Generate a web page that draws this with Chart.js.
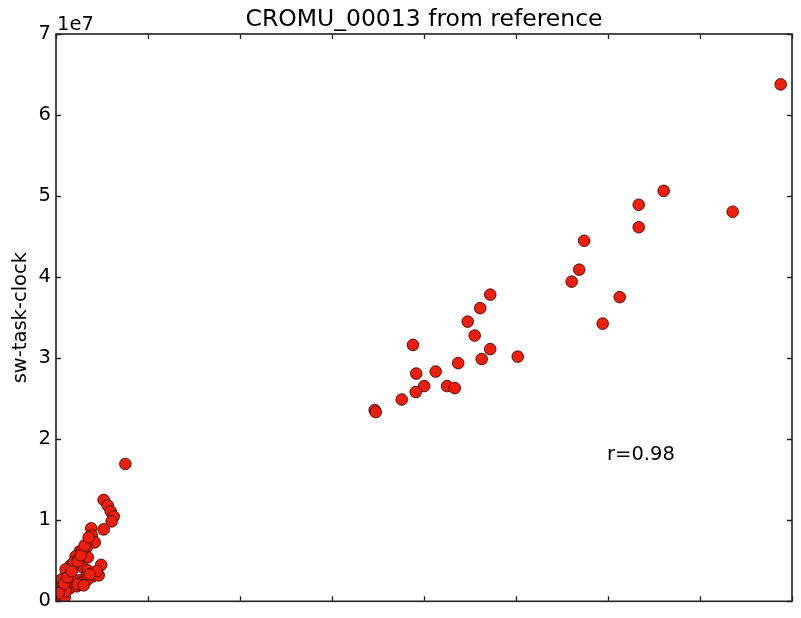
<!DOCTYPE html>
<html>
<head>
<meta charset="utf-8">
<title>CROMU_00013 from reference</title>
<script src="https://cdn.jsdelivr.net/npm/chart.js@4.4.1/dist/chart.umd.min.js"></script>
<style>
    html, body { margin: 0; padding: 0; background: #fff; }
    #chart { display: block; }
</style>
</head>
<body>
<canvas id="chart" width="801" height="618"></canvas>
<script>
// reference run time (arbitrary units) vs sw-task-clock
const refTime = [
    7.877, 6.605, 6.334, 6.334, 7.355, 5.741, 5.687, 5.605, 6.127, 5.942,
    4.720, 4.611, 4.475, 4.551, 4.720, 4.627, 5.019, 3.880, 4.372, 4.127,
    3.915, 4.002, 3.910, 4.252, 4.334, 3.758, 3.464, 3.475,
    0.754, 0.518, 0.562, 0.595, 0.627, 0.605, 0.518, 0.383, 0.388, 0.421,
    0.334, 0.259, 0.345, 0.214, 0.491, 0.160, 0.290, 0.345, 0.182, 0.149,
    0.399, 0.464, 0.323, 0.259, 0.105, 0.127, 0.192, 0.279, 0.345, 0.073,
    0.116, 0.051, 0.084, 0.149, 0.225, 0.040, 0.073, 0.018, 0.029, 0.008,
    0.062, 0.095, 0.105, 0.236, 0.301, 0.290, 0.192, 0.105, 0.062, 0.247,
    0.084, 0.127, 0.171, 0.236, 0.268, 0.312, 0.355, 0.029, 0.442, 0.366
];
const taskClock = [
    6.378e7, 5.065e7, 4.893e7, 4.616e7, 4.807e7, 4.449e7, 4.092e7, 3.944e7, 3.753e7, 3.426e7,
    3.784e7, 3.617e7, 3.451e7, 3.279e7, 3.112e7, 2.989e7, 3.019e7, 3.164e7, 2.939e7, 2.835e7,
    2.810e7, 2.656e7, 2.582e7, 2.656e7, 2.631e7, 2.490e7, 2.360e7, 2.335e7,
    1.695e7, 1.251e7, 1.183e7, 1.109e7, 1.048e7, 0.986e7, 0.887e7, 0.900e7, 0.813e7, 0.727e7,
    0.665e7, 0.616e7, 0.542e7, 0.555e7, 0.450e7, 0.444e7, 0.419e7, 0.382e7, 0.407e7, 0.333e7,
    0.308e7, 0.320e7, 0.296e7, 0.259e7, 0.308e7, 0.271e7, 0.259e7, 0.234e7, 0.271e7, 0.222e7,
    0.234e7, 0.173e7, 0.148e7, 0.160e7, 0.185e7, 0.111e7, 0.086e7, 0.062e7, 0.025e7, 0.012e7,
    0.037e7, 0.049e7, 0.123e7, 0.210e7, 0.197e7, 0.641e7, 0.481e7, 0.394e7, 0.271e7, 0.518e7,
    0.210e7, 0.296e7, 0.370e7, 0.493e7, 0.567e7, 0.690e7, 0.789e7, 0.099e7, 0.370e7, 0.333e7
];
const xTicks = [0, 1, 2, 3, 4, 5, 6, 7, 8];
const yTicks = [0, 1e7, 2e7, 3e7, 4e7, 5e7, 6e7, 7e7];
const chartTitle = 'CROMU_00013 from reference';
const yLabel = 'sw-task-clock';
const offsetLabel = '1e7';
const corrLabel = 'r=0.98';

const FONT = '"DejaVu Sans", sans-serif';

const points = refTime.map((x, i) => ({ x: x, y: taskClock[i] }));

// frame, inward ticks and the text around the axes
const axesDecor = {
    id: 'axesDecor',
    afterDraw(chart) {
        const { ctx, chartArea: a, scales } = chart;
        const xs = scales.x, ys = scales.y;
        const tl = 5;
        ctx.save();
        ctx.strokeStyle = '#222';
        ctx.lineWidth = 1.3;
        ctx.beginPath();
        xTicks.forEach(v => {
            const px = Math.round(xs.getPixelForValue(v)) + 0.5;
            ctx.moveTo(px, a.bottom); ctx.lineTo(px, a.bottom - tl);
            ctx.moveTo(px, a.top); ctx.lineTo(px, a.top + tl);
        });
        yTicks.forEach(v => {
            const py = Math.round(ys.getPixelForValue(v)) + 0.5;
            ctx.moveTo(a.left, py); ctx.lineTo(a.left + tl, py);
            ctx.moveTo(a.right, py); ctx.lineTo(a.right - tl, py);
        });
        ctx.stroke();
        ctx.lineWidth = 1.6;
        ctx.strokeRect(a.left, a.top, a.right - a.left, a.bottom - a.top);

        ctx.fillStyle = '#000';
        ctx.font = '23.5px ' + FONT;
        ctx.textAlign = 'center';
        ctx.textBaseline = 'alphabetic';
        ctx.fillText(chartTitle, (a.left + a.right) / 2, 26);

        ctx.font = '19.5px ' + FONT;
        ctx.textAlign = 'left';
        ctx.fillText(offsetLabel, a.left + 1, 30);
        ctx.fillText(corrLabel, xs.getPixelForValue(5.99), ys.getPixelForValue(1.74e7));

        ctx.translate(21, (a.top + a.bottom) / 2);
        ctx.rotate(-Math.PI / 2);
        ctx.textAlign = 'center';
        ctx.textBaseline = 'middle';
        ctx.fillText(yLabel, 0, 0);
        ctx.restore();
    }
};

new Chart(document.getElementById('chart'), {
    type: 'scatter',
    data: {
        datasets: [{
            data: points,
            pointRadius: 5.8,
            pointHoverRadius: 5.8,
            pointBackgroundColor: 'rgb(238, 30, 12)',
            pointBorderColor: 'rgba(70, 8, 0, 0.9)',
            pointBorderWidth: 1
        }]
    },
    options: {
        responsive: false,
        animation: false,
        devicePixelRatio: 1,
        layout: { padding: { top: 34, right: 9, left: 0, bottom: 0 } },
        plugins: {
            legend: { display: false },
            tooltip: { enabled: false },
            title: { display: false }
        },
        scales: {
            x: {
                type: 'linear',
                min: 0,
                max: 8,
                ticks: { display: false, stepSize: 1 },
                grid: { display: false, drawTicks: false },
                border: { display: false },
                afterFit: (scale) => { scale.height = 16; }
            },
            y: {
                type: 'linear',
                min: 0,
                max: 7e7,
                ticks: {
                    stepSize: 1e7,
                    padding: 5,
                    color: '#000',
                    font: { family: FONT, size: 19.5 },
                    callback: (v) => String(Math.round(v / 1e7))
                },
                grid: { display: false, drawTicks: false },
                border: { display: false },
                afterFit: (scale) => { scale.width = 56; }
            }
        }
    },
    plugins: [axesDecor]
});
</script>
</body>
</html>
